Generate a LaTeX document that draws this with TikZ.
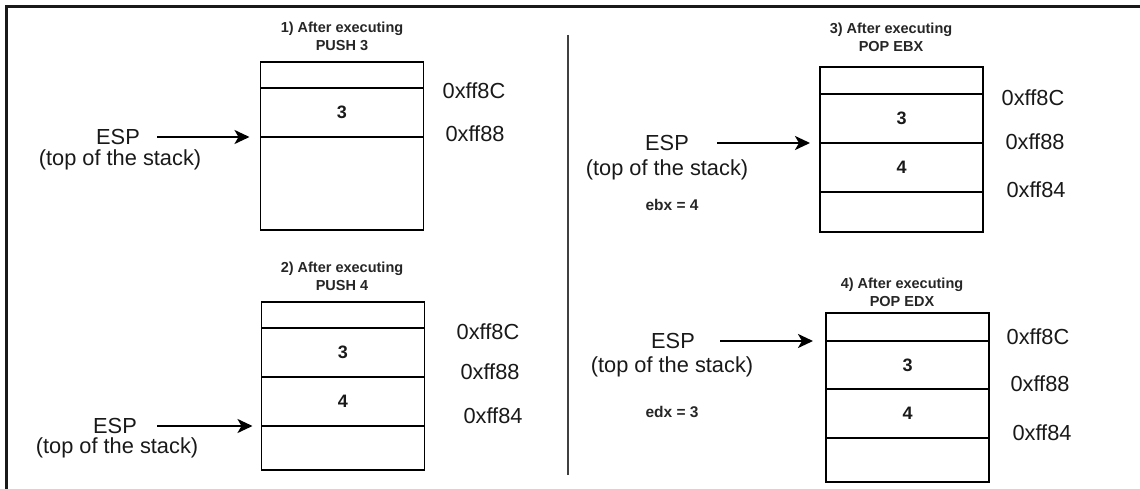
\documentclass[tikz,border=0pt]{standalone}
\usepackage{fontspec}
\setmainfont{Liberation Sans}
\usetikzlibrary{arrows.meta}
\begin{document}
\begin{tikzpicture}[x=1pt, y=-1pt, >={Stealth[length=15pt,width=14pt,inset=4pt]},
    cell/.style={draw, line width=1.8pt, minimum width=163pt, anchor=north, inner sep=0pt, outer sep=0pt,
        font=\bfseries\fontsize{18}{20}\selectfont, text=black!90},
    lbl/.style={font=\fontsize{21.8}{24}\selectfont, text=black!90},
    stacktitle/.style={align=center, font=\bfseries\fontsize{14.5}{18}\selectfont, text=black!85},
    regnote/.style={font=\bfseries\fontsize{15.5}{18}\selectfont, text=black!85},
    ptr/.style={->, line width=2.4pt}]
    \useasboundingbox (0,0) rectangle (1140,489);
    % frame and divider
    \coordinate (ftr) at (1140,7);
    \coordinate (ftl) at (6,7);
    \coordinate (fbl) at (6,489);
    \draw[line width=3pt, black!90] (ftr) -- (ftl) -- (fbl);
    \coordinate (dtop) at (568,35);
    \coordinate (dbot) at (568,475);
    \draw[line width=2pt, black!75] (dtop) -- (dbot);

    % 1) PUSH 3
    \node[stacktitle] (t1) at (342,36) {1) After executing\\PUSH 3};
    \node[cell, minimum height=26pt] (s1a) at (342,62) {};
    \node[cell, minimum height=49pt] (s1b) at (s1a.south) {3};
    \node[cell, minimum height=93pt] (s1c) at (s1b.south) {};
    \node[lbl] (a1a) at (474,91) {0xff8C};
    \node[lbl] (a1b) at (475,134) {0xff88};
    \node[lbl] (esp1) at (118,137) {ESP};
    \node[lbl] (tos1) at (120,160) {(top of the stack)};
    \draw[ptr, shorten <=14pt, shorten >=11pt] (esp1.east) -- (s1b.south west);

    % 2) PUSH 4
    \node[stacktitle] (t2) at (342,276) {2) After executing\\PUSH 4};
    \node[cell, minimum height=26pt] (s2a) at (343,302) {};
    \node[cell, minimum height=49pt] (s2b) at (s2a.south) {3};
    \node[cell, minimum height=49pt] (s2c) at (s2b.south) {4};
    \node[cell, minimum height=44pt] (s2d) at (s2c.south) {};
    \node[lbl] (a2a) at (488,332) {0xff8C};
    \node[lbl] (a2b) at (490,372) {0xff88};
    \node[lbl] (a2c) at (493,416) {0xff84};
    \node[lbl] (esp2) at (115,426) {ESP};
    \node[lbl] (tos2) at (117,448) {(top of the stack)};
    \draw[ptr, shorten <=17pt, shorten >=9pt] (esp2.east) -- (s2c.south west);

    % 3) POP EBX
    \node[stacktitle] (t3) at (891,37) {3) After executing\\POP EBX};
    \node[cell, minimum height=27pt] (s3a) at (901.5,67) {};
    \node[cell, minimum height=49pt] (s3b) at (s3a.south) {3};
    \node[cell, minimum height=49pt] (s3c) at (s3b.south) {4};
    \node[cell, minimum height=40pt] (s3d) at (s3c.south) {};
    \node[lbl] (a3a) at (1033,98) {0xff8C};
    \node[lbl] (a3b) at (1035,142) {0xff88};
    \node[lbl] (a3c) at (1036,190) {0xff84};
    \node[lbl] (esp3) at (667,143) {ESP};
    \node[lbl] (tos3) at (667,170) {(top of the stack)};
    \node[regnote] (ebx) at (672,205) {ebx = 4};
    \draw[ptr, shorten <=25pt, shorten >=10pt] (esp3.east) -- (s3b.south west);

    % 4) POP EDX
    \node[stacktitle] (t4) at (902,292) {4) After executing\\POP EDX};
    \node[cell, minimum height=28pt] (s4a) at (907.5,313) {};
    \node[cell, minimum height=48pt] (s4b) at (s4a.south) {3};
    \node[cell, minimum height=49pt] (s4c) at (s4b.south) {4};
    \node[cell, minimum height=44pt] (s4d) at (s4c.south) {};
    \node[lbl] (a4a) at (1038,337) {0xff8C};
    \node[lbl] (a4b) at (1040,384) {0xff88};
    \node[lbl] (a4c) at (1042,433) {0xff84};
    \node[lbl] (esp4) at (673,341) {ESP};
    \node[lbl] (tos4) at (672,367) {(top of the stack)};
    \node[regnote] (edx) at (672,412) {edx = 3};
    \draw[ptr, shorten <=22pt, shorten >=13pt] (esp4.east) -- (s4a.south west);
\end{tikzpicture}
\end{document}
